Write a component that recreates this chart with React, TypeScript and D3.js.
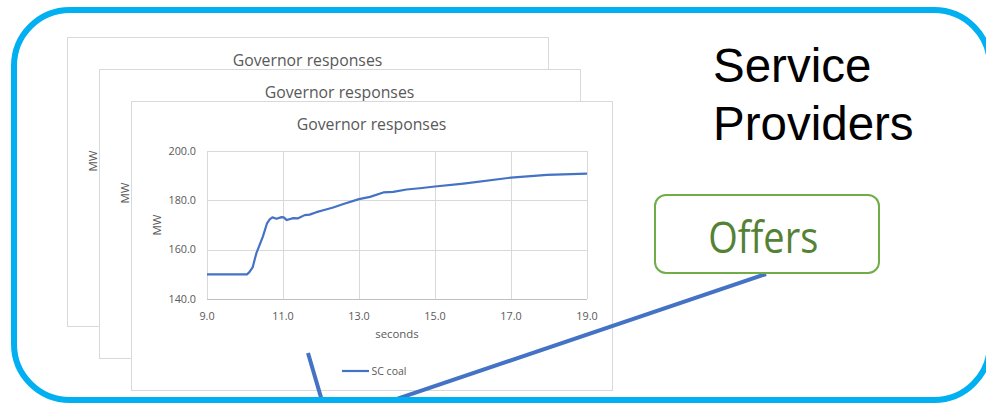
import React from "react";
import * as d3 from "d3";

// ---- Data ----
const timeSec = [9.0, 10.05, 10.11, 10.2, 10.3, 10.47, 10.58, 10.65, 10.72, 10.83, 10.96, 11.02, 11.1, 11.27, 11.4, 11.57, 11.7, 11.88, 12.06, 12.32, 12.59, 13.0, 13.29, 13.64, 13.9, 14.25, 14.6, 15.0, 15.75, 17.0, 17.95, 19.0];
const scCoalMW = [150.0, 150.0, 150.8, 152.8, 158.6, 165.3, 170.7, 172.3, 173.1, 172.5, 173.2, 173.1, 172.0, 172.8, 172.7, 174.0, 174.2, 175.2, 176.0, 177.1, 178.5, 180.5, 181.4, 183.2, 183.4, 184.4, 184.9, 185.6, 186.8, 189.2, 190.3, 190.8];
const xTicks = [9, 11, 13, 15, 17, 19];
const yTicks = [140, 160, 180, 200];
const chartTitle = "Governor responses";
const xAxisTitle = "seconds";
const yAxisTitle = "MW";
const seriesName = "SC coal";
const headingLines = ["Service", "Providers"];
const calloutLabel = "Offers";

const W = 986;
const H = 403;
const CW = 481;
const CH = 289;
const FONT = "'Open Sans', 'Noto Sans', sans-serif";
const GREY = "#595959";
const GRID = "#d9d9d9";
const LINE = "#4472C4";

function Chart({ x0, y0 }: { x0: number; y0: number }) {
  const x = d3.scaleLinear().domain([9, 19]).range([76, 456]);
  const y = d3.scaleLinear().domain([140, 200]).range([198, 50]);
  const line = d3
    .line<number>()
    .x((_, i) => x(timeSec[i]))
    .y((d) => y(d));
  const [xl, xr] = x.range();
  const [yb, yt] = y.range();
  return (
    <g transform={`translate(${x0},${y0})`}>
      <rect x={0.5} y={0.5} width={CW} height={CH} fill="#fff" stroke={GRID} strokeWidth={1} />
      <text x={CW / 2} y={28.5} textAnchor="middle" fontFamily={FONT} fontSize={15.8} fill={GREY}>
        {chartTitle}
      </text>
      {yTicks.map((t) => (
        <g key={"y" + t}>
          <line x1={xl} x2={xr} y1={Math.round(y(t)) + 0.5} y2={Math.round(y(t)) + 0.5} stroke={t === 140 ? "#bfbfbf" : GRID} strokeWidth={1} />
          <text x={65} y={y(t)} dy="0.35em" textAnchor="end" fontFamily={FONT} fontSize={10.8} fill={GREY}>
            {d3.format(".1f")(t)}
          </text>
        </g>
      ))}
      {xTicks.map((t) => (
        <g key={"x" + t}>
          <line x1={Math.round(x(t)) + 0.5} x2={Math.round(x(t)) + 0.5} y1={yt} y2={yb} stroke={GRID} strokeWidth={1} />
          <text x={x(t)} y={219} textAnchor="middle" fontFamily={FONT} fontSize={10.8} fill={GREY}>
            {d3.format(".1f")(t)}
          </text>
        </g>
      ))}
      <path d={line(scCoalMW) || ""} fill="none" stroke={LINE} strokeWidth={2.2} strokeLinejoin="round" />
      <text x={(xl + xr) / 2} y={237} textAnchor="middle" fontFamily={FONT} fontSize={11.4} fill={GREY}>
        {xAxisTitle}
      </text>
      <text
        transform={`translate(26.3,${(yt + yb) / 2}) rotate(-90)`}
        textAnchor="middle"
        dy="0.35em"
        fontFamily={FONT}
        fontSize={11.6}
        fill={GREY}
      >
        {yAxisTitle}
      </text>
      <line x1={211} x2={238} y1={270} y2={270} stroke={LINE} strokeWidth={2.2} />
      <text x={240.5} y={273.8} fontFamily={FONT} fontSize={10.5} fill={GREY}>
        {seriesName}
      </text>
    </g>
  );
}

export default function App() {
  const offsets = [0, 1, 2];
  return (
    <svg
      width={W}
      height={H}
      style={{ position: "fixed", left: 0, top: 0, background: "#fff" }}
      xmlns="http://www.w3.org/2000/svg"
    >
      <rect x={0} y={0} width={W} height={H} fill="#fff" />
      {offsets.map((k) => (
        <Chart key={k} x0={67 + 32 * k} y0={37 + 32 * k} />
      ))}
      {/* connector lines */}
      <line x1={308} y1={353} x2={323.5} y2={406} stroke={LINE} strokeWidth={4} />
      <line x1={766} y1={274} x2={376} y2={406} stroke={LINE} strokeWidth={4} />
      {/* outer frame */}
      <rect x={14} y={10} width={976} height={390} rx={56} ry={56} fill="none" stroke="#00B0F0" strokeWidth={6} />
      {/* heading */}
      {headingLines.map((s, i) => (
        <text key={s} x={713} y={82 + 58 * i} fontFamily="'Liberation Sans', Arial, sans-serif" fontSize={47.5} fill="#000">
          {s}
        </text>
      ))}
      {/* callout box */}
      <rect x={655} y={195} width={224} height={78} rx={11} ry={11} fill="#fff" stroke="#70AD47" strokeWidth={2} />
      <text
        x={708.3}
        y={252.7}
        fontFamily={FONT}
        fontSize={43}
        fill="#548235"
        textLength={110}
        lengthAdjust="spacingAndGlyphs"
      >
        {calloutLabel}
      </text>
    </svg>
  );
}
